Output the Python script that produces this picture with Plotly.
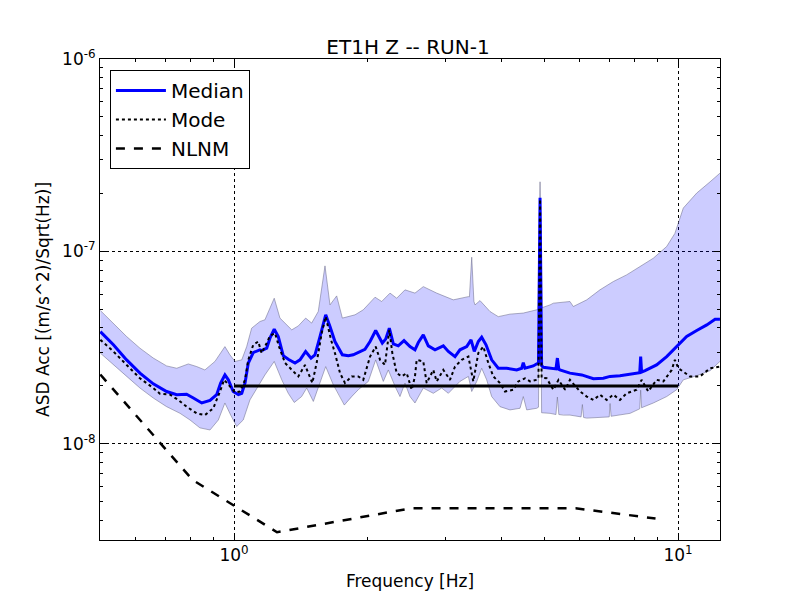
import plotly.graph_objects as go

# ---------------- data (frequency in Hz, ASD in units of 1e-8 (m/s^2)/sqrt(Hz)) ----------------
median_f = [0.50, 0.535, 0.573, 0.614, 0.658, 0.705, 0.743, 0.782, 0.810, 0.846, 0.883, 0.914, 0.933,
            0.954, 0.971, 0.996, 1.023, 1.041, 1.059, 1.077, 1.105, 1.144,
            1.154, 1.185, 1.205, 1.232, 1.258, 1.291, 1.325, 1.372, 1.408, 1.450, 1.491, 1.522, 1.562,
            1.609, 1.645, 1.688, 1.754, 1.809, 1.856, 1.905, 1.972, 2.025, 2.085, 2.158, 2.196, 2.238,
            2.285, 2.344, 2.415, 2.491, 2.556,
            2.601, 2.669, 2.739, 2.836, 2.961, 3.039, 3.146, 3.228, 3.343, 3.419, 3.477, 3.550, 3.613,
            3.695, 3.805, 3.937, 4.113, 4.332, 4.446, 4.483, 4.522, 4.721, 4.80, 4.85, 4.89, 4.93, 4.975,
            5.15, 5.31, 5.35, 5.39, 5.42, 5.71, 6.07, 6.45, 6.79, 7.03, 7.40, 7.80, 8.14, 8.20, 8.24,
            8.28, 8.43, 8.95, 9.43, 9.93, 10.46, 11.02, 11.61, 12.12, 12.43]
median_v = [3.83, 3.27, 2.73, 2.33, 2.05, 1.87, 1.80, 1.81, 1.73, 1.63, 1.68, 1.80, 2.07,
            2.28, 2.15, 1.87, 1.80, 1.83, 2.07, 2.63, 2.98, 3.08,
            3.05, 3.14, 3.54, 3.94, 3.61, 2.87, 2.75, 2.63, 2.73, 3.02, 2.79, 2.90, 3.61,
            4.68, 4.07, 3.40, 2.90, 2.87, 2.90, 2.98, 3.10, 3.40, 3.88, 3.34, 3.50, 3.99,
            3.31, 3.23, 3.44, 3.20, 3.08,
            3.36, 3.68, 3.23, 3.08, 3.23, 3.02, 2.84, 3.08, 3.20, 3.47, 3.02, 3.40, 3.58,
            3.27, 2.73, 2.47, 2.47, 2.42, 2.47, 2.64, 2.47, 2.54, 2.60, 2.63, 19.0, 2.55, 2.50,
            2.47, 2.45, 2.79, 2.44, 2.42, 2.33, 2.28, 2.18, 2.19, 2.24, 2.26, 2.30, 2.33, 2.34, 2.84,
            2.36, 2.40, 2.57, 2.84, 3.20, 3.61, 3.88, 4.15, 4.44, 4.44]

upper_f = [0.50, 0.535, 0.573, 0.614, 0.658, 0.705, 0.743, 0.789, 0.824, 0.860, 0.906, 0.954, 0.979,
           1.005, 1.041, 1.068, 1.096, 1.144,
           1.174, 1.232, 1.269, 1.349, 1.396, 1.450, 1.496, 1.548, 1.603, 1.645, 1.703, 1.754, 1.873,
           1.955, 2.078, 2.151, 2.246, 2.325, 2.427, 2.556,
           2.669, 2.861, 3.118, 3.372, 3.39, 3.431, 3.47, 3.490, 3.582, 3.772, 3.937, 4.184, 4.483,
           4.806, 4.84, 4.89, 4.94, 5.15, 5.24, 5.71, 5.81, 6.23, 6.67, 7.15, 7.66, 8.21, 8.80, 9.43,
           9.84, 10.28, 11.02, 11.81, 12.43]
upper_v = [4.93, 4.24, 3.61, 3.14, 2.79, 2.54, 2.47, 2.60, 2.52, 2.42, 2.68, 3.20, 2.90,
           2.68, 2.73, 3.20, 3.99, 4.32,
           4.41, 5.71, 4.50, 3.91, 4.10, 4.50, 4.24, 4.87, 8.41, 5.27, 5.87, 4.50, 4.68,
           4.97, 5.78, 5.49, 6.07, 5.71, 6.31, 6.07,
           6.56, 6.07, 5.60, 5.82, 5.80, 9.33, 5.50, 5.27, 5.55, 4.87, 4.58, 4.72, 4.78,
           4.97, 5.00, 23.0, 5.10, 5.27, 5.38, 5.49, 5.17, 5.60, 6.31, 6.97, 7.55, 8.34, 9.22, 10.6,
           12.4, 16.8, 20.1, 23.0, 25.5]

lower_f = [0.50, 0.535, 0.573, 0.614, 0.658, 0.705, 0.756, 0.796, 0.838, 0.883, 0.922, 0.954, 0.983,
           1.014, 1.049, 1.086, 1.115,
           1.174, 1.232, 1.281, 1.325, 1.367, 1.420, 1.458, 1.509, 1.562, 1.609, 1.673, 1.733, 1.772,
           1.841, 1.905, 2.007, 2.085, 2.169, 2.226, 2.305, 2.365, 2.427, 2.491, 2.556,
           2.669, 2.811, 2.936, 3.039, 3.228, 3.372, 3.431, 3.521, 3.613, 3.708, 3.805, 3.972, 4.184,
           4.407, 4.483, 4.563, 4.806, 4.85, 4.89, 4.93, 5.15, 5.31, 5.35, 5.39, 5.52, 5.71, 6.05,
           6.09, 6.13, 6.23, 7.00, 7.03, 7.07, 7.80, 8.20, 8.24, 8.28, 8.80, 9.43, 9.93, 10.28, 11.02,
           11.81, 12.43]
lower_v = [2.96, 2.57, 2.24, 1.95, 1.73, 1.56, 1.44, 1.33, 1.21, 1.18, 1.33, 1.63, 1.41,
           1.23, 1.33, 1.69, 1.87,
           2.28, 2.68, 2.15, 1.83, 1.64, 1.76, 1.95, 1.66, 2.07, 2.52, 2.03, 1.76, 1.59,
           1.76, 1.91, 2.11, 2.73, 2.11, 2.42, 1.99, 1.76, 2.07, 1.76, 1.63,
           1.95, 1.83, 1.95, 1.83, 2.11, 2.24, 1.87, 2.11, 2.47, 2.15, 1.76, 1.56, 1.50,
           1.53, 1.76, 1.50, 1.53, 1.55, 15.0, 1.45, 1.44, 1.42, 1.75, 1.42, 1.41, 1.41, 1.38,
           1.60, 1.37, 1.36, 1.38, 1.62, 1.39, 1.44, 1.52, 1.90, 1.54, 1.63, 1.76, 1.91, 2.15, 2.26,
           2.40, 2.68]

mode_f = [0.50, 0.535, 0.573, 0.614, 0.658, 0.681, 0.718, 0.749, 0.782, 0.824, 0.860, 0.898, 0.930,
          0.950, 0.979, 1.005, 1.032, 1.059, 1.077, 1.105, 1.134,
          1.154, 1.185, 1.205, 1.237, 1.263, 1.303, 1.360, 1.396, 1.445, 1.483, 1.501, 1.535, 1.576,
          1.609, 1.654, 1.688, 1.733, 1.778, 1.841, 1.905, 1.955, 2.025, 2.085, 2.133, 2.188, 2.238,
          2.273, 2.325, 2.386, 2.449, 2.513, 2.556,
          2.579, 2.669, 2.716, 2.811, 2.861, 2.961, 3.065, 3.146, 3.257, 3.372, 3.459, 3.550, 3.644,
          3.739, 3.837, 3.972, 4.077, 4.257, 4.368, 4.522, 4.642, 4.806, 4.85, 4.89, 4.93, 5.06, 5.24,
          5.38, 5.57, 5.71, 6.02, 6.23, 6.45, 6.67, 6.91, 7.15, 7.40, 7.66, 8.07, 8.28, 8.57, 8.95,
          9.27, 9.68, 9.84, 10.02, 10.64, 11.21, 11.81, 12.43]
mode_v = [3.47, 3.02, 2.57, 2.19, 1.95, 1.82, 1.80, 1.69, 1.56, 1.44, 1.41, 1.53, 1.87,
          2.15, 1.99, 1.85, 1.87, 2.15, 2.73, 3.27, 3.40,
          2.96, 3.34, 3.64, 3.76, 3.20, 2.63, 2.37, 2.24, 2.57, 2.19, 2.07, 2.63, 3.76,
          4.58, 3.47, 2.96, 2.33, 2.07, 2.24, 2.24, 2.15, 2.84, 3.20, 2.73, 2.57, 3.91,
          2.96, 2.33, 2.24, 2.33, 1.91, 2.24,
          2.73, 2.68, 2.07, 2.42, 2.11, 2.42, 2.15, 2.52, 2.73, 2.84, 2.11, 2.96, 3.20,
          2.63, 2.24, 2.07, 1.87, 1.91, 2.11, 2.19, 2.11, 2.15, 2.20, 18.7, 2.20, 2.19, 1.91,
          2.15, 1.91, 2.15, 1.87, 1.76, 1.69, 1.80, 1.69, 1.80, 1.69, 1.83, 1.91, 2.15, 1.87, 2.15,
          2.11, 2.42, 2.73, 2.47, 2.24, 2.24, 2.47, 2.52]

nlnm_f = [0.5, 0.806, 1.25, 2.5, 5.88, 8.9]
nlnm_v = [2.29, 0.65, 0.347, 0.462, 0.462, 0.409]

req_f = [1.0, 10.0]
req_v = [2.0, 2.0]

title_text = "ET1H Z -- RUN-1"
x_label = "Frequency [Hz]"
y_label = "ASD Acc [(m/s^2)/Sqrt(Hz)]"
x_ticks = [1, 10]
x_ticktext = ["10<sup>0</sup>", "10<sup>1</sup>"]
y_ticks = [1e-8, 1e-7, 1e-6]
y_ticktext = ["10<sup>-8</sup>", "10<sup>-7</sup>", "10<sup>-6</sup>"]

UNIT = 1e-8
scale = lambda arr: [v * UNIT for v in arr]

fig = go.Figure()

# shaded band (polygon)
fig.add_trace(go.Scatter(
    x=upper_f + lower_f[::-1], y=scale(upper_v) + scale(lower_v)[::-1],
    fill="toself", fillcolor="rgba(0,0,255,0.2)", line=dict(width=0),
    mode="lines", showlegend=False, hoverinfo="skip"))
edge = dict(color="rgba(110,110,140,0.55)", width=1)
fig.add_trace(go.Scatter(x=upper_f, y=scale(upper_v), mode="lines", line=edge, showlegend=False))
fig.add_trace(go.Scatter(x=lower_f, y=scale(lower_v), mode="lines", line=edge, showlegend=False))

fig.add_trace(go.Scatter(x=median_f, y=scale(median_v), mode="lines", name="Median",
                         line=dict(color="#0000ff", width=3)))
fig.add_trace(go.Scatter(x=mode_f, y=scale(mode_v), mode="lines", name="Mode",
                         line=dict(color="black", width=2, dash="dot")))
fig.add_trace(go.Scatter(x=nlnm_f, y=scale(nlnm_v), mode="lines", name="NLNM",
                         line=dict(color="black", width=2.5, dash="dash")))
fig.add_trace(go.Scatter(x=req_f, y=scale(req_v), mode="lines", showlegend=False,
                         line=dict(color="black", width=3)))

minor_x = [m * 10 ** k for k in (-1, 0, 1) for m in range(2, 10)]
minor_y = [m * 10 ** k for k in (-9, -8, -7) for m in range(2, 10)]

font = "DejaVu Sans, Arial, sans-serif"
axis_common = dict(type="log", showline=True, linecolor="black", linewidth=1, mirror="ticks",
                   ticks="inside", ticklen=6, tickcolor="black", tickwidth=1,
                   showgrid=True, gridcolor="black", gridwidth=1, griddash="dot",
                   zeroline=False, tickfont=dict(family=font, size=17, color="black"))

fig.update_layout(
    width=800, height=600,
    paper_bgcolor="white", plot_bgcolor="white",
    margin=dict(l=92, r=88, t=51, b=68),
    title=dict(text=title_text, x=0.5, xanchor="center", y=0.935, yanchor="middle",
               font=dict(family=font, size=20, color="black")),
    font=dict(family=font, color="black"),
    xaxis=dict(axis_common, range=[-0.3018, 1.0946], tickmode="array", tickvals=x_ticks,
               ticktext=x_ticktext,
               minor=dict(tickmode="array", tickvals=minor_x, ticks="inside", ticklen=3,
                          tickcolor="black", showgrid=False),
               title=dict(text=x_label, font=dict(family=font, size=17, color="black"), standoff=10)),
    yaxis=dict(axis_common, range=[-8.5, -6], tickmode="array", tickvals=y_ticks,
               ticktext=y_ticktext,
               minor=dict(tickmode="array", tickvals=minor_y, ticks="inside", ticklen=3,
                          tickcolor="black", showgrid=False),
               title=dict(text=y_label, font=dict(family=font, size=17, color="black"), standoff=8)),
    legend=dict(x=0.016, y=0.977, xanchor="left", yanchor="top",
                bgcolor="white", bordercolor="black", borderwidth=1, itemwidth=50,
                font=dict(family=font, size=20, color="black"), tracegroupgap=0),
    showlegend=True,
)

fig.write_html("out.html")
